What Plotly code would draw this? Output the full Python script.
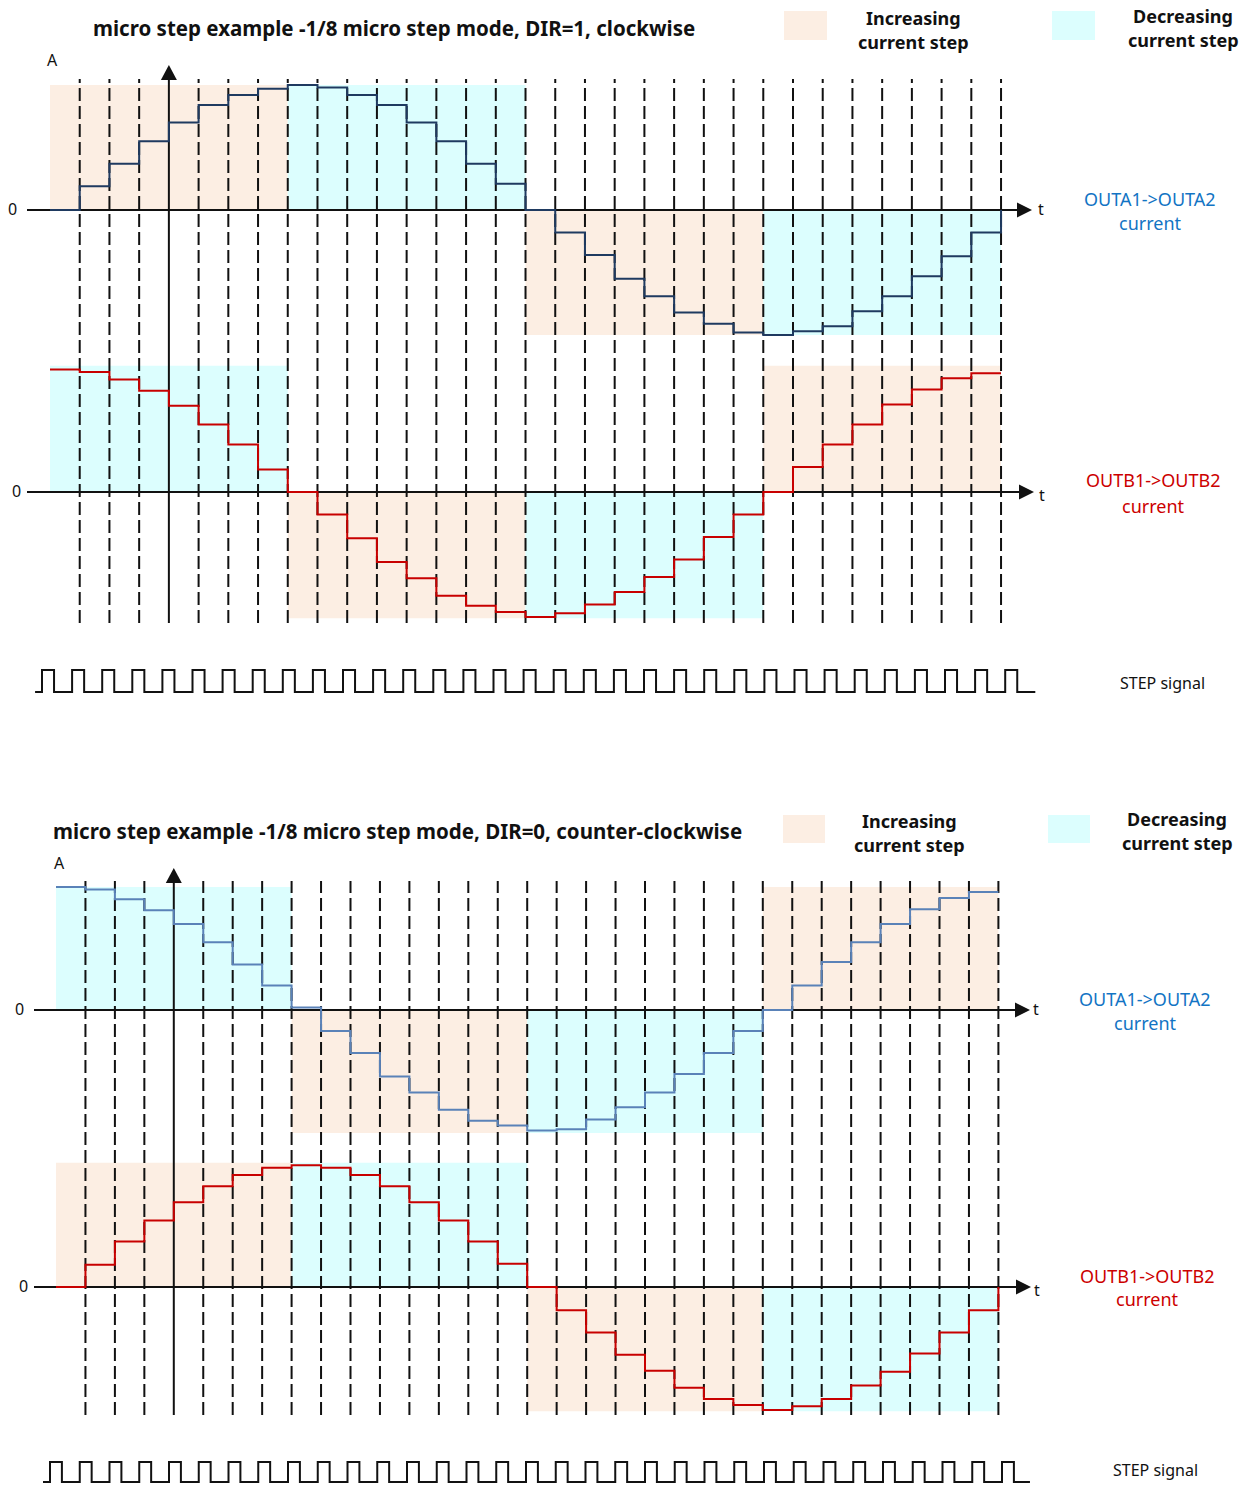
import plotly.graph_objects as go

W, H = 1252, 1485

# ---------------- data ----------------
STEP_INDEX = list(range(33))  # micro-step boundaries (k = 0 .. 32)

# DIR=1, clockwise
A_CW = [0.0, 0.19, 0.37, 0.55, 0.70, 0.84, 0.92, 0.97, 1.00, 0.98, 0.92, 0.84, 0.70, 0.55, 0.37, 0.21,
        0.0, -0.18, -0.36, -0.55, -0.69, -0.82, -0.91, -0.98, -1.00, -0.97, -0.93, -0.81, -0.69, -0.53, -0.37, -0.18,
        0.0]
B_CW = [0.98, 0.96, 0.90, 0.81, 0.69, 0.54, 0.38, 0.18, 0.0, -0.18, -0.37, -0.56, -0.69, -0.83, -0.91, -0.96,
        -1.00, -0.97, -0.90, -0.80, -0.68, -0.54, -0.36, -0.18, 0.0, 0.20, 0.38, 0.54, 0.70, 0.82, 0.91, 0.95,
        0.95]
# DIR=0, counter-clockwise
A_CCW = [1.00, 0.98, 0.90, 0.81, 0.70, 0.55, 0.37, 0.20, 0.02, -0.17, -0.35, -0.54, -0.67, -0.81, -0.90, -0.94,
         -0.98, -0.97, -0.89, -0.79, -0.67, -0.52, -0.35, -0.17, 0.0, 0.20, 0.39, 0.55, 0.70, 0.82, 0.91, 0.96,
         0.96]
B_CCW = [0.0, 0.18, 0.37, 0.54, 0.69, 0.82, 0.91, 0.97, 0.99, 0.97, 0.91, 0.82, 0.69, 0.54, 0.37, 0.19,
         0.0, -0.19, -0.37, -0.55, -0.68, -0.82, -0.91, -0.96, -1.00, -0.97, -0.91, -0.80, -0.69, -0.54, -0.37, -0.19,
         0.0]

QUARTERS = [0, 8, 16, 24, 32]      # quarter-period boundaries in micro steps
AXIS_STEP = 4                       # step index where the current (A) axis is drawn
STEP_PULSES = 33                    # number of STEP pulses drawn
STEP_DUTY = 0.4                     # high fraction of each STEP period

TITLES = ["micro step example -1/8 micro step mode, DIR=1, clockwise",
          "micro step example -1/8 micro step mode, DIR=0, counter-clockwise"]
LEGEND = ["Increasing", "current step", "Decreasing", "current step"]
A_LABEL = ["OUTA1->OUTA2", "current"]
B_LABEL = ["OUTB1->OUTB2", "current"]

# ---------------- styles ----------------
PEACH = "#FCEEE3"
CYAN = "#DCFEFE"
NAVY = "#1F3A60"
STEEL = "#5A82B8"
RED = "#C80000"
BLUE_TXT = "#1274C4"
RED_TXT = "#CC0000"
INK = "#111111"
FONT = "Noto Sans"

# pixel geometry of each diagram (layout only)
TOP = dict(x0=50, dx=29.72, za=210, sa=125, zb=492, sb=125, xref="x", ya="y", yb="y2")
BOT = dict(x0=56, dx=29.45, za=1010, sa=123, zb=1287, sb=123, xref="x2", ya="y3", yb="y4")


def px(x):
    return x / W


def py(y):
    return 1 - y / H


def xr(x0, dx):
    return [(0 - x0) / dx, (W - x0) / dx]


def yr(z, s):
    return [(z - H) / s, z / s]


fig = go.Figure()

# step traces
fig.add_trace(go.Scatter(x=STEP_INDEX, y=A_CW, xaxis="x", yaxis="y", mode="lines",
                         line=dict(shape="hv", color=NAVY, width=2), hoverinfo="skip"))
fig.add_trace(go.Scatter(x=STEP_INDEX, y=B_CW, xaxis="x", yaxis="y2", mode="lines",
                         line=dict(shape="hv", color=RED, width=2), hoverinfo="skip"))
fig.add_trace(go.Scatter(x=STEP_INDEX, y=A_CCW, xaxis="x2", yaxis="y3", mode="lines",
                         line=dict(shape="hv", color=STEEL, width=2), hoverinfo="skip"))
fig.add_trace(go.Scatter(x=STEP_INDEX, y=B_CCW, xaxis="x2", yaxis="y4", mode="lines",
                         line=dict(shape="hv", color=RED, width=2), hoverinfo="skip"))


# STEP signals
def step_wave(n, duty, start, end):
    xs, ys = [start], [0]
    for i in range(n):
        xs += [i, i, i + duty, i + duty]
        ys += [0, 1, 1, 0]
    xs.append(end)
    ys.append(0)
    return xs, ys


sx, sy = step_wave(STEP_PULSES, STEP_DUTY, -0.23, 33.0)
fig.add_trace(go.Scatter(x=sx, y=sy, xaxis="x3", yaxis="y5", mode="lines",
                         line=dict(color=INK, width=2), hoverinfo="skip"))
sx, sy = step_wave(STEP_PULSES, STEP_DUTY, -0.235, 32.94)
fig.add_trace(go.Scatter(x=sx, y=sy, xaxis="x4", yaxis="y6", mode="lines",
                         line=dict(color=INK, width=2), hoverinfo="skip"))

shapes = []


def shading(vals, xref, yref, ext):
    for q in range(4):
        a, b = QUARTERS[q], QUARTERS[q + 1]
        mid = vals[(a + b) // 2]
        sign = 1 if mid > 0 else -1
        increasing = abs(vals[b - 1]) > abs(vals[a + 1])
        shapes.append(dict(type="rect", xref=xref, yref=yref, x0=a, x1=b, y0=0, y1=sign * ext,
                           fillcolor=PEACH if increasing else CYAN, line=dict(width=0), layer="below"))


shading(A_CW, "x", "y", 1.0)
shading(B_CW, "x", "y2", 1.01)
shading(A_CCW, "x2", "y3", 1.0)
shading(B_CCW, "x2", "y4", 1.01)


def dashed(g, ytop, ybot):
    y_top = (g["za"] - ytop) / g["sa"]
    y_bot = (g["za"] - ybot) / g["sa"]
    for k in STEP_INDEX[1:]:
        if k == AXIS_STEP:
            continue
        shapes.append(dict(type="line", xref=g["xref"], yref=g["ya"], x0=k, x1=k, y0=y_bot, y1=y_top,
                           line=dict(color=INK, width=2, dash="13px,5px"), layer="below"))


dashed(TOP, 79, 623)
dashed(BOT, 881, 1415)


def hline(g, which, x0, x1):
    yref = g["ya"] if which == "a" else g["yb"]
    k0 = (x0 - g["x0"]) / g["dx"]
    k1 = (x1 - g["x0"]) / g["dx"]
    shapes.append(dict(type="line", xref=g["xref"], yref=yref, x0=k0, x1=k1, y0=0, y1=0,
                       line=dict(color=INK, width=2), layer="below"))
    shapes.append(dict(type="path", xref=g["xref"], yref=yref, xsizemode="pixel", ysizemode="pixel",
                       xanchor=(x1 + 14 - g["x0"]) / g["dx"], yanchor=0, path="M0,0 L-15,7.5 L-15,-7.5 Z",
                       fillcolor=INK, line=dict(width=0), layer="below"))


def vaxis(g, ytip, ybot):
    y_tip = (g["za"] - ytip) / g["sa"]
    y_line_top = (g["za"] - ytip - 12) / g["sa"]
    y_bot = (g["za"] - ybot) / g["sa"]
    shapes.append(dict(type="line", xref=g["xref"], yref=g["ya"], x0=AXIS_STEP, x1=AXIS_STEP,
                       y0=y_bot, y1=y_line_top, line=dict(color=INK, width=2), layer="below"))
    shapes.append(dict(type="path", xref=g["xref"], yref=g["ya"], xsizemode="pixel", ysizemode="pixel",
                       xanchor=AXIS_STEP, yanchor=y_tip, path="M0,0 L-8,-15 L8,-15 Z",
                       fillcolor=INK, line=dict(width=0), layer="below"))


hline(TOP, "a", 27, 1018)
hline(TOP, "b", 27, 1020)
hline(BOT, "a", 34, 1016)
hline(BOT, "b", 34, 1017)
vaxis(TOP, 65, 623)
vaxis(BOT, 868, 1415)


def legend_box(x0, x1, y0, y1, color):
    shapes.append(dict(type="rect", xref="paper", yref="paper", x0=px(x0), x1=px(x1), y0=py(y1), y1=py(y0),
                       fillcolor=color, line=dict(width=0), layer="below"))


legend_box(784, 827, 11, 40, PEACH)
legend_box(1052, 1095, 11, 40, CYAN)
legend_box(783, 825, 815, 843, PEACH)
legend_box(1048, 1090, 815, 843, CYAN)

ann = []


def text(x, y, s, size, color=INK, bold=False):
    ann.append(dict(xref="paper", yref="paper", x=px(x), y=py(y), text=("<b>%s</b>" % s) if bold else s,
                    showarrow=False, xanchor="center", yanchor="middle",
                    font=dict(family=FONT, size=size, color=color)))


text(394, 28, TITLES[0], 20.5, bold=True)
text(397, 831, TITLES[1], 20.5, bold=True)
text(913, 18, LEGEND[0], 18, bold=True)
text(913, 42, LEGEND[1], 18, bold=True)
text(1183, 16, LEGEND[2], 18, bold=True)
text(1183, 40, LEGEND[3], 18, bold=True)
text(910, 821, LEGEND[0], 18, bold=True)
text(910, 845, LEGEND[1], 18, bold=True)
text(1177, 819, LEGEND[2], 18, bold=True)
text(1177, 843, LEGEND[3], 18, bold=True)

text(1150, 199, A_LABEL[0], 18, BLUE_TXT)
text(1150, 223, A_LABEL[1], 18, BLUE_TXT)
text(1153, 480, B_LABEL[0], 18, RED_TXT)
text(1153, 506, B_LABEL[1], 18, RED_TXT)
text(1145, 999, A_LABEL[0], 18, BLUE_TXT)
text(1145, 1023, A_LABEL[1], 18, BLUE_TXT)
text(1147, 1276, B_LABEL[0], 18, RED_TXT)
text(1147, 1299, B_LABEL[1], 18, RED_TXT)

text(1162, 683, "STEP signal", 16)
text(1155, 1470, "STEP signal", 16)

for (x, y, s) in [(12, 209, "0"), (16, 491, "0"), (19, 1009, "0"), (23, 1286, "0"),
                  (52, 60, "A"), (59, 863, "A"),
                  (1041, 209, "t"), (1042, 495, "t"), (1036, 1009, "t"), (1037, 1290, "t")]:
    text(x, y, s, 16)

ax_common = dict(visible=False, fixedrange=True, domain=[0, 1])
fig.update_layout(
    width=W, height=H, autosize=False,
    margin=dict(l=0, r=0, t=0, b=0, pad=0),
    paper_bgcolor="white", plot_bgcolor="white",
    showlegend=False,
    xaxis=dict(range=xr(TOP["x0"], TOP["dx"]), **ax_common),
    xaxis2=dict(range=xr(BOT["x0"], BOT["dx"]), overlaying="x", **ax_common),
    xaxis3=dict(range=xr(42, 30.1), overlaying="x", **ax_common),
    xaxis4=dict(range=xr(50, 29.75), overlaying="x", **ax_common),
    yaxis=dict(range=yr(TOP["za"], TOP["sa"]), **ax_common),
    yaxis2=dict(range=yr(TOP["zb"], TOP["sb"]), overlaying="y", **ax_common),
    yaxis3=dict(range=yr(BOT["za"], BOT["sa"]), overlaying="y", **ax_common),
    yaxis4=dict(range=yr(BOT["zb"], BOT["sb"]), overlaying="y", **ax_common),
    yaxis5=dict(range=yr(692, 22), overlaying="y", **ax_common),
    yaxis6=dict(range=yr(1482, 20), overlaying="y", **ax_common),
    shapes=shapes,
    annotations=ann,
)

fig.write_html("out.html")
